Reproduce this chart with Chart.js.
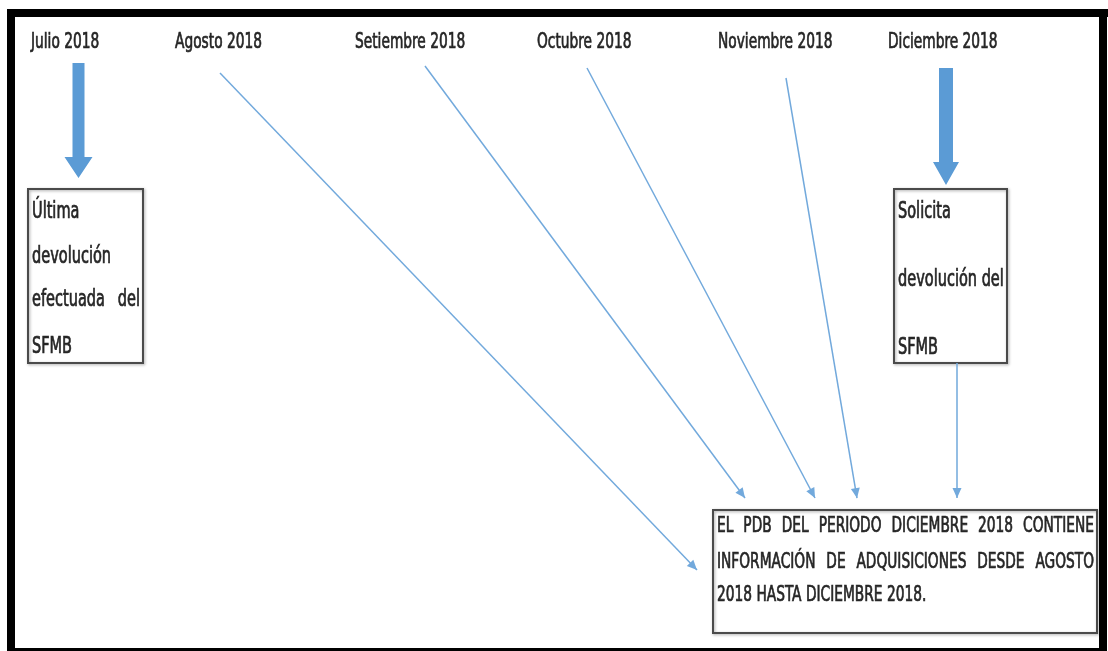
<!DOCTYPE html>
<html>
<head>
<meta charset="utf-8">
<script src="https://cdn.jsdelivr.net/npm/chart.js@4.4.0/dist/chart.umd.min.js"></script>
<style>
  html, body { margin: 0; padding: 0; background: #fff; }
  canvas { display: block; }
</style>
</head>
<body>
<canvas id="diagram" width="1108" height="651"></canvas>
<script>
// texts of the diagram
var months = ["Julio 2018", "Agosto 2018", "Setiembre 2018", "Octubre 2018", "Noviembre 2018", "Diciembre 2018"];
var leftBoxLines = ["Última", "devolución", "efectuada del", "SFMB"];
var rightBoxLines = ["Solicita", "devolución del", "SFMB"];
var resultLines = ["EL PDB DEL PERIODO DICIEMBRE 2018 CONTIENE", "INFORMACIÓN DE ADQUISICIONES DESDE AGOSTO", "2018 HASTA DICIEMBRE 2018."];

// layout (page units, y going down)
var layout = {
  monthX: [31, 175, 355, 537, 718, 888],
  monthY: 42,
  links: [
    [[220, 73], [697, 570]],
    [[425, 66], [745, 498]],
    [[587, 68], [815, 498]],
    [[786, 78], [857, 498]],
    [[957, 363], [957, 498]]
  ],
  bigArrows: [
    { cx: 78.5, top: 63, shaft: 12, headTop: 157, head: 28, tip: 178 },
    { cx: 946, top: 68, shaft: 14, headTop: 162, head: 26, tip: 185 }
  ],
  leftBox: { x: 28, y: 189, w: 115, h: 174, lineY: [212, 257, 300, 347], justify: [false, false, true, false] },
  rightBox: { x: 894, y: 189, w: 113, h: 174, lineY: [212, 280, 348], justify: [false, false, false] },
  resultBox: { x: 713, y: 510, w: 384, h: 123, lineY: [526, 562, 595], justify: [true, true, false] }
};

var FONT = '"Liberation Sans Narrow", "DejaVu Sans Condensed", sans-serif';
var STRETCH_X = 0.85;
var STRETCH_Y = 1.2;
var BLUE = "#5b9bd5";
var THIN = "#72a9dc";
var INK = "#262626";

function drawText(ctx, str, x, y) {
  ctx.save();
  ctx.translate(x, y);
  ctx.scale(STRETCH_X, STRETCH_Y);
  ctx.strokeStyle = INK;
  ctx.lineWidth = 0.6;
  ctx.fillText(str, 0, 0);
  ctx.strokeText(str, 0, 0);
  ctx.restore();
}

function textW(ctx, str) {
  return ctx.measureText(str).width * STRETCH_X;
}

function drawLine(ctx, str, x0, x1, y, justify) {
  if (!justify) { drawText(ctx, str, x0, y); return; }
  var words = str.split(" ");
  var total = 0;
  words.forEach(function (w) { total += textW(ctx, w); });
  var gap = (x1 - x0 - total) / (words.length - 1);
  var x = x0;
  words.forEach(function (w) {
    drawText(ctx, w, x, y);
    x += textW(ctx, w) + gap;
  });
}

var diagramPlugin = {
  id: "diagram",
  beforeDatasetsDraw: function (chart) {
    var ctx = chart.ctx, sx = chart.scales.x, sy = chart.scales.y;
    function px(v) { return sx.getPixelForValue(v); }
    function py(v) { return sy.getPixelForValue(v); }
    ctx.save();
    // outer frame
    ctx.fillStyle = "#000";
    ctx.fillRect(px(7), py(9), px(1108) - px(7), 8);
    ctx.fillRect(px(7), py(9), 8, py(651) - py(9));
    ctx.fillRect(px(1099), py(9), 8, py(651) - py(9));
    ctx.fillRect(px(7), py(648), px(1099) - px(7), 3);

    // month labels
    ctx.fillStyle = INK;
    ctx.textBaseline = "middle";
    ctx.font = "18px " + FONT;
    months.forEach(function (m, i) {
      drawText(ctx, m, px(layout.monthX[i]), py(layout.monthY));
    });

    // thick arrows
    ctx.fillStyle = BLUE;
    layout.bigArrows.forEach(function (a) {
      ctx.beginPath();
      ctx.moveTo(px(a.cx - a.shaft / 2), py(a.top));
      ctx.lineTo(px(a.cx + a.shaft / 2), py(a.top));
      ctx.lineTo(px(a.cx + a.shaft / 2), py(a.headTop));
      ctx.lineTo(px(a.cx + a.head / 2), py(a.headTop));
      ctx.lineTo(px(a.cx), py(a.tip));
      ctx.lineTo(px(a.cx - a.head / 2), py(a.headTop));
      ctx.lineTo(px(a.cx - a.shaft / 2), py(a.headTop));
      ctx.closePath();
      ctx.fill();
    });

    // boxes
    [[layout.leftBox, leftBoxLines, 19], [layout.rightBox, rightBoxLines, 19], [layout.resultBox, resultLines, 18]].forEach(function (item) {
      var b = item[0];
      ctx.save();
      ctx.shadowColor = "rgba(0,0,0,0.35)";
      ctx.shadowBlur = 3;
      ctx.shadowOffsetX = 1;
      ctx.shadowOffsetY = 1;
      ctx.strokeStyle = "#4a4a4a";
      ctx.lineWidth = 2;
      ctx.strokeRect(px(b.x), py(b.y), px(b.x + b.w) - px(b.x), py(b.y + b.h) - py(b.y));
      ctx.restore();
      ctx.fillStyle = INK;
      ctx.font = item[2] + "px " + FONT;
      item[1].forEach(function (line, i) {
        drawLine(ctx, line, px(b.x + 4), px(b.x + b.w - 3), py(b.lineY[i]), b.justify[i]);
      });
    });
    ctx.restore();
  },
  afterDatasetsDraw: function (chart) {
    var ctx = chart.ctx;
    ctx.save();
    ctx.fillStyle = THIN;
    chart.data.datasets.forEach(function (ds, i) {
      var pts = chart.getDatasetMeta(i).data;
      var a = pts[0], b = pts[pts.length - 1];
      var ang = Math.atan2(b.y - a.y, b.x - a.x);
      ctx.save();
      ctx.translate(b.x, b.y);
      ctx.rotate(ang);
      ctx.beginPath();
      ctx.moveTo(0, 0);
      ctx.lineTo(-10, -4.5);
      ctx.lineTo(-10, 4.5);
      ctx.closePath();
      ctx.fill();
      ctx.restore();
    });
    ctx.restore();
  }
};

new Chart(document.getElementById("diagram"), {
  type: "scatter",
  data: {
    datasets: layout.links.map(function (l) {
      return {
        data: l.map(function (p) { return { x: p[0], y: p[1] }; }),
        showLine: true,
        borderColor: THIN,
        borderWidth: 1.5,
        pointRadius: 0
      };
    })
  },
  options: {
    responsive: false,
    animation: false,
    layout: { padding: 0 },
    plugins: { legend: { display: false }, tooltip: { enabled: false } },
    scales: {
      x: { type: "linear", min: 0, max: 1108, display: false },
      y: { type: "linear", min: 0, max: 651, reverse: true, display: false }
    }
  },
  plugins: [diagramPlugin]
});
</script>
</body>
</html>
